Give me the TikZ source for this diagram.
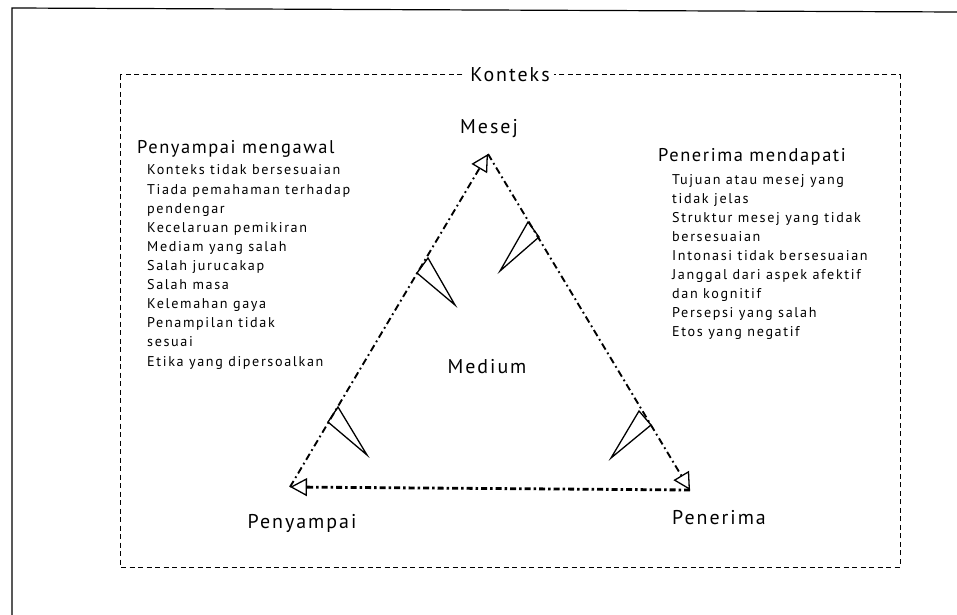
\documentclass[tikz,border=0pt]{standalone}
\usepackage{fontspec}
\setmainfont{PT Sans}[LetterSpace=10]
\usepackage{tikz}
\usetikzlibrary{arrows.meta,calc}

\tikzset{
  lbl/.style={inner sep=1pt,font=\fontsize{20}{24}\selectfont},
  hdr/.style={inner sep=0pt,anchor=base west,font=\fontsize{18.5}{22}\selectfont\addfontfeatures{LetterSpace=8.5}},
  item/.style={inner sep=0pt,anchor=base west,font=\fontsize{14.2}{17}\selectfont\addfontfeatures{LetterSpace=11.5}},
  edge/.style={line width=1.9bp,dash pattern=on 7bp off 3.5bp on 1.8bp off 3.5bp,
    -{Triangle[open,length=17bp,width=18bp,line width=1.3bp]}},
  flag/.style={line width=1.3bp,line join=miter},
}

\begin{document}
\begin{tikzpicture}[x=1bp,y=-1bp]
\useasboundingbox (0,0) rectangle (957,615);
% page edge of the scan
\draw[line width=1.2bp] (12,615) -- (12,8) -- (957,12);
% konteks frame
\draw[line width=1bp,dash pattern=on 5bp off 3.5bp] (120,75) rectangle (900,567);
\node (konteks) at (510,75)[lbl,fill=white,inner xsep=4bp] {Konteks};

% vertices
\coordinate (mes) at (488,154);
\coordinate (pyp) at (290,487);
\coordinate (pnr) at (690,490);

\node (mesej) at (489,129)[lbl] {Mesej};
\node (medium) at (487,367)[lbl] {Medium};
\node (penyampai) at (302,523)[lbl] {Penyampai};
\node (penerima) at (719,518)[lbl] {Penerima};

\draw [edge] (pyp) -- (mes);
\draw [edge] (mes) -- (pnr);
\draw [edge,line width=2.8bp,dash pattern=on 6bp off 3bp on 2.5bp off 3bp] (pnr) -- (pyp);

% flags on the edges
\draw [flag] (428,258) -- (455,305) -- (417,273) -- cycle;
\draw [flag] (338,407) -- (367,455) -- (328,422) -- cycle;
\draw [flag] (528,222) -- (500,271) -- (539,237) -- cycle;
\draw [flag] (639,411) -- (611,458) -- (651,425) -- cycle;

% penyampai
\node (hpyp) at (137,154)[hdr] {Penyampai mengawal};
\foreach \txt [count=\i] in {Konteks tidak bersesuaian,Tiada pemahaman terhadap,pendengar,
  Kecelaruan pemikiran,Mediam yang salah,Salah jurucakap,Salah masa,Kelemahan gaya,
  Penampilan tidak,sesuai,Etika yang dipersoalkan}
  \node (lp\i) at (147,{175+19.1*(\i-1)})[item] {\txt};

% penerima
\node (hpnr) at (658,162)[hdr] {Penerima mendapati};
\foreach \txt [count=\i] in {Tujuan atau mesej yang,tidak jelas,Struktur mesej yang tidak,
  bersesuaian,Intonasi tidak bersesuaian,Janggal dari aspek afektif,dan kognitif,
  Persepsi yang salah,Etos yang negatif}
  \node (lr\i) at (672,{185+18.9*(\i-1)})[item] {\txt};
\end{tikzpicture}
\end{document}
